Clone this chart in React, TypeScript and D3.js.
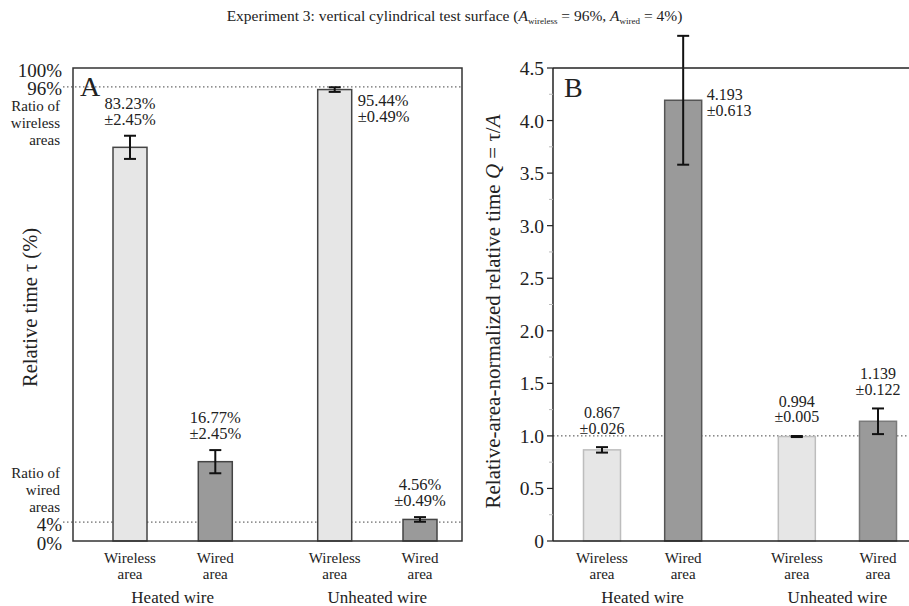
import { scaleLinear, range } from 'd3';

const groups = ['Heated wire', 'Unheated wire'];
const areas = ['Wireless area', 'Wired area'];
// relative time tau (%)
const tauMean = [83.23, 16.77, 95.44, 4.56];
const tauErr = [2.45, 2.45, 0.49, 0.49];
// area-normalized Q = tau/A
const qMean = [0.867, 4.193, 0.994, 1.139];
const qErr = [0.026, 0.613, 0.005, 0.122];
const qTicks = [0, 0.5, 1.0, 1.5, 2.0, 2.5, 3.0, 3.5, 4.0, 4.5];
const aTicks = [0, 4, 96, 100];
const ratioLines = [96, 4];

const W = 909;
const H = 606;
const FONT = "'Liberation Serif', 'Times New Roman', Times, serif";
const LIGHT = '#e6e6e6';
const DARK = '#9a9a9a';

const top = 68;
const bottom = 541;
const A = { left: 73, right: 462 };
const B = { left: 553, right: 909 };

// slot position: group index * gap + sub index
const GAP = 2.4;
const slots = groups.flatMap((g, gi) => areas.map((a, ai) => ({ g, a, gi, ai, pos: gi * GAP + ai })));

const yA = scaleLinear().domain([0, 100]).range([bottom, top]);
const yB = scaleLinear().domain([0, 4.5]).range([bottom, top]);
const xA = scaleLinear().domain([0, GAP + 1]).range([A.left + 57, A.right - 42]);
const xB = scaleLinear().domain([0, GAP + 1]).range([B.left + 49, B.right - 31]);

const ErrorBar = ({ x, y0, y1 }: { x: number; y0: number; y1: number }) => (
  <g stroke="#111" strokeWidth={2}>
    <line x1={x} x2={x} y1={y0} y2={y1} />
    <line x1={x - 6} x2={x + 6} y1={y0} y2={y0} />
    <line x1={x - 6} x2={x + 6} y1={y1} y2={y1} />
  </g>
);

const CatLabels = ({ x }: { x: (p: number) => number }) => (
  <g style={{ fontSize: 15 }} textAnchor="middle" fill="#222">
    {slots.map((s, i) => (
      <text key={i} x={x(s.pos)} y={563}>
        <tspan x={x(s.pos)}>{s.a.split(' ')[0]}</tspan>
        <tspan x={x(s.pos)} dy={16}>{s.a.split(' ')[1]}</tspan>
      </text>
    ))}
    {groups.map((g, gi) => {
      const cx = (x(gi * GAP) + x(gi * GAP + 1)) / 2;
      return (
        <text key={g} x={cx} y={603} style={{ fontSize: 17 }}>
          {g}
        </text>
      );
    })}
  </g>
);

const PanelA = () => {
  const bw = 34;
  return (
    <g>
      {ratioLines.map((v) => (
        <line key={v} x1={63} x2={A.right} y1={yA(v)} y2={yA(v)} stroke="#444" strokeDasharray="1.5,2.5" />
      ))}
      {slots.map((s, i) => {
        const cx = xA(s.pos);
        const yt = yA(tauMean[i]);
        const e0 = yA(tauMean[i] + tauErr[i]);
        const e1 = yA(tauMean[i] - tauErr[i]);
        const side = i === 2;
        return (
          <g key={i}>
            <rect x={cx - bw / 2} y={yt} width={bw} height={bottom - yt} fill={s.ai === 0 ? LIGHT : DARK} stroke="#444" strokeWidth={1.5} />
            <ErrorBar x={cx} y0={e0} y1={e1} />
            {side ? (
              <text x={cx + bw / 2 + 6} y={yt + 16} style={{ fontSize: 16.5 }} fill="#222">
                <tspan x={cx + bw / 2 + 6}>{tauMean[i].toFixed(2)}%</tspan>
                <tspan x={cx + bw / 2 + 6} dy={16}>±{tauErr[i].toFixed(2)}%</tspan>
              </text>
            ) : (
              <text x={cx} y={e0 - 27} style={{ fontSize: 16.5 }} fill="#222" textAnchor="middle">
                <tspan x={cx}>{tauMean[i].toFixed(2)}%</tspan>
                <tspan x={cx} dy={16}>±{tauErr[i].toFixed(2)}%</tspan>
              </text>
            )}
          </g>
        );
      })}
      <rect x={A.left} y={top} width={A.right - A.left} height={bottom - top} fill="none" stroke="#333" strokeWidth={1.5} />
      <g style={{ fontSize: 19 }} textAnchor="end" fill="#222">
        {aTicks.map((t) => (
          <text key={t} x={62} y={yA(t) + 8.5}>
            {t}%
          </text>
        ))}
        <text x={60} y={111} style={{ fontSize: 15 }}>
          <tspan x={60}>Ratio of</tspan>
          <tspan x={60} dy={17}>wireless</tspan>
          <tspan x={60} dy={17}>areas</tspan>
        </text>
        <text x={60} y={478} style={{ fontSize: 15 }}>
          <tspan x={60}>Ratio of</tspan>
          <tspan x={60} dy={17}>wired</tspan>
          <tspan x={60} dy={17}>areas</tspan>
        </text>
      </g>
      <text x={80} y={96} style={{ fontSize: 28 }} fill="#222">A</text>
      <text transform={`translate(37,${(top + bottom) / 2 + 3}) rotate(-90)`} textAnchor="middle" style={{ fontSize: 20.5 }} fill="#222">
        Relative time τ (%)
      </text>
      <CatLabels x={xA} />
    </g>
  );
};

const PanelB = () => {
  const bw = 37;
  const minor = range(0.25, 4.5, 0.5);
  return (
    <g>
      <line x1={B.left} x2={B.right} y1={yB(1)} y2={yB(1)} stroke="#444" strokeDasharray="1.5,2.5" />
      {slots.map((s, i) => {
        const cx = xB(s.pos);
        const yt = yB(qMean[i]);
        const e0 = yB(qMean[i] + qErr[i]);
        const e1 = yB(qMean[i] - qErr[i]);
        const side = i === 1;
        return (
          <g key={i}>
            <rect
              x={cx - bw / 2}
              y={yt}
              width={bw}
              height={bottom - yt}
              fill={s.ai === 0 ? LIGHT : DARK}
              stroke={s.ai === 0 ? '#bdbdbd' : i === 1 ? '#555' : '#7a7a7a'}
              strokeWidth={1.5}
            />
            <ErrorBar x={cx} y0={e0} y1={e1} />
            {side ? (
              <text x={cx + bw / 2 + 5} y={yt} style={{ fontSize: 16 }} fill="#222">
                <tspan x={cx + bw / 2 + 5}>{qMean[i].toFixed(3)}</tspan>
                <tspan x={cx + bw / 2 + 5} dy={15.5}>±{qErr[i].toFixed(3)}</tspan>
              </text>
            ) : (
              <text x={cx} y={e0 - 29} style={{ fontSize: 16 }} fill="#222" textAnchor="middle">
                <tspan x={cx}>{qMean[i].toFixed(3)}</tspan>
                <tspan x={cx} dy={15.5}>±{qErr[i].toFixed(3)}</tspan>
              </text>
            )}
          </g>
        );
      })}
      <g stroke="#222" strokeWidth={1.5}>
        <line x1={B.left} x2={B.left} y1={top} y2={bottom} />
        <line x1={B.left} x2={B.right} y1={bottom} y2={bottom} />
        <line x1={B.left} x2={B.right} y1={top} y2={top} />
      </g>
      {minor.map((t) => (
        <line key={t} x1={B.left - 4} x2={B.left} y1={yB(t)} y2={yB(t)} stroke="#bbb" />
      ))}
      {qTicks.map((t) => (
        <g key={t}>
          <line x1={B.left - 6} x2={B.left} y1={yB(t)} y2={yB(t)} stroke="#222" strokeWidth={1.2} />
          <text x={544} y={yB(t) + 7} style={{ fontSize: 19.5 }} textAnchor="end" fill="#222">
            {t === 0 ? '0' : t.toFixed(1)}
          </text>
        </g>
      ))}
      <text x={564} y={97} style={{ fontSize: 28 }} fill="#222">B</text>
      <text transform={`translate(500,${(top + bottom) / 2 + 7}) rotate(-90)`} textAnchor="middle" style={{ fontSize: 21 }} fill="#222">
        Relative-area-normalized relative time <tspan fontStyle="italic">Q</tspan> = τ/<tspan fontStyle="italic">A</tspan>
      </text>
      <CatLabels x={xB} />
    </g>
  );
};

export default function App() {
  return (
    <svg width={W} height={H} style={{ position: 'absolute', left: 0, top: 0, background: '#fff', fontFamily: FONT }}>
      <text x={W / 2} y={21} textAnchor="middle" style={{ fontSize: 15.5 }} fill="#222">
        Experiment 3: vertical cylindrical test surface (<tspan fontStyle="italic">A</tspan>
        <tspan style={{ fontSize: 9 }} dy={3}>wireless</tspan>
        <tspan dy={-3}> = 96%, </tspan>
        <tspan fontStyle="italic">A</tspan>
        <tspan style={{ fontSize: 9 }} dy={3}>wired</tspan>
        <tspan dy={-3}> = 4%)</tspan>
      </text>
      <PanelA />
      <PanelB />
    </svg>
  );
}
